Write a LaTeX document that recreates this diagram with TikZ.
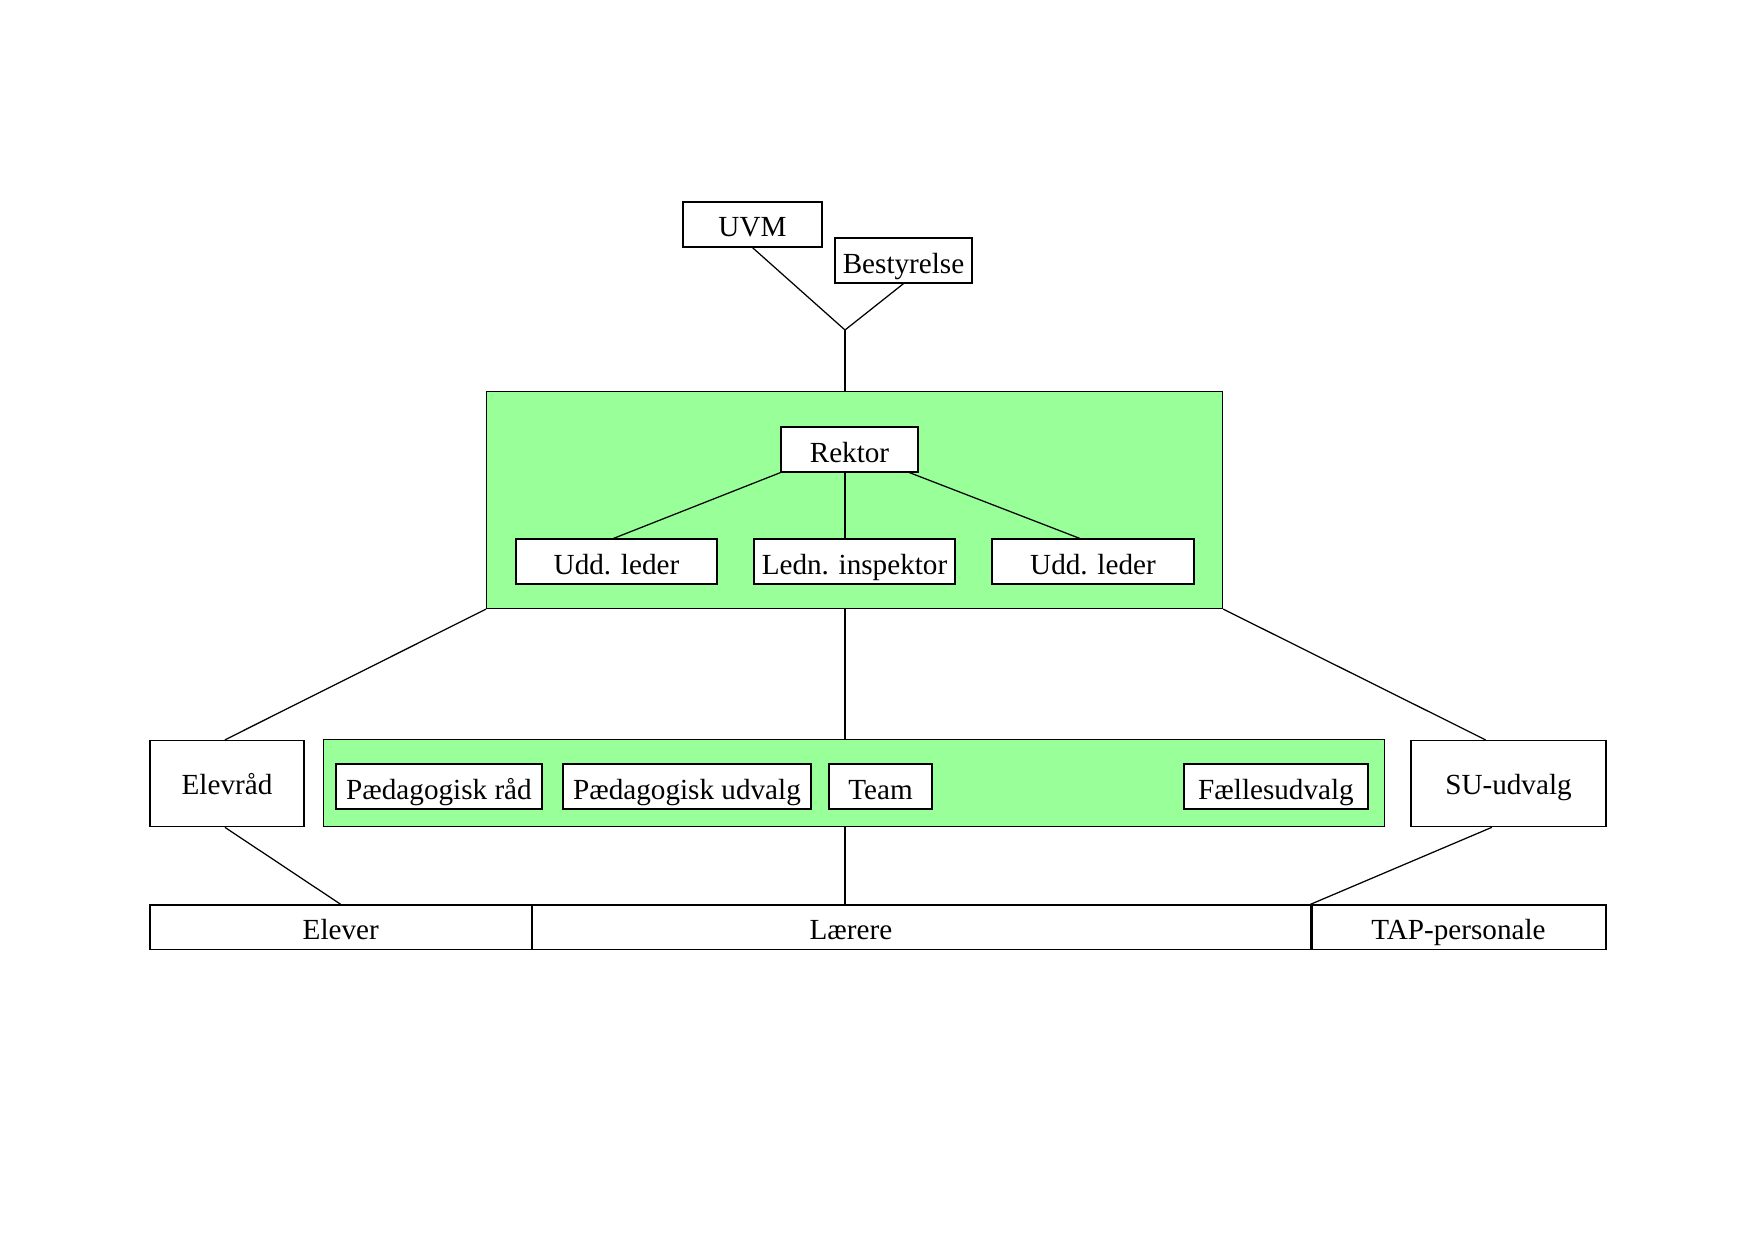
\documentclass[tikz,border=0pt]{standalone}
\usepackage{fontspec}
\setmainfont{Liberation Serif}
\usetikzlibrary{fit,calc}
\definecolor{lgreen}{HTML}{99FF99}
\tikzset{
  box/.style={draw=black, line width=0.6pt, fill=white, inner sep=0pt},
  tbox/.style={box, line width=1.3pt},
  gbox/.style={draw=black, line width=0.6pt, fill=lgreen, inner sep=0pt},
  gbox2/.style={draw=black, line width=0.4pt, fill=lgreen, inner sep=0pt},
  lab/.style={font=\fontsize{14}{16}\selectfont, inner sep=0pt, text height=12pt, text depth=0pt},
  conn/.style={draw=black, line width=0.6pt}
}
\begin{document}
\begin{tikzpicture}[x=0.48pt, y=-0.48pt]
\useasboundingbox (0,0) rectangle (1754,1240);
% top
\node[box, fit={(683,202)(822,247)}, label={[lab]center:UVM}] (uvm) {};
\node[box, fit={(835,238)(972,283)}, label={[lab]center:Bestyrelse}] (best) {};
\coordinate (junc) at (845,330);
% management box
\node[gbox, fit={(486.6,391.5)(1222.6,608.5)}] (mgmt) {};
\node[box, fit={(781,427)(918,472)}, label={[lab]center:Rektor}] (rektor) {};
\node[box, fit={(516,539)(717,584)}, label={[lab]center:Udd. leder}] (udd1) {};
\node[box, fit={(754,539)(955,584)}, label={[lab]center:Ledn. inspektor}] (ledn) {};
\node[box, fit={(992,539)(1194,584)}, label={[lab]center:Udd. leder}] (udd2) {};
% middle row
\node[box, fit={(150,740.5)(304,826.7)}, label={[lab, yshift=0.8pt]center:Elevråd}] (elevraad) {};
\node[gbox2, fit={(323.3,739.4)(1384.8,826.7)}] (lower) {};
\node[tbox, fit={(336,764)(542,809)}, label={[lab]center:Pædagogisk råd}] (pr) {};
\node[tbox, fit={(563,764)(811,809)}, label={[lab]center:Pædagogisk udvalg}] (pu) {};
\node[tbox, fit={(829,764)(932,809)}, label={[lab]center:Team}] (team) {};
\node[tbox, fit={(1184,764)(1368,809)}, label={[lab]center:Fællesudvalg}] (fu) {};
\node[box, fit={(1411,740.5)(1606,826.7)}, label={[lab, yshift=0.8pt]center:SU-udvalg}] (su) {};
% bottom row
\node[box, fit={(150,905)(531.5,949.7)}, label={[lab]center:Elever}] (elever) {};
\node[box, fit={(532.5,905)(1311,949.7)}, label={[lab, xshift=-34pt]center:Lærere}] (laerere) {};
\node[box, fit={(1311,905)(1606,949.7)}, label={[lab]center:TAP-personale}] (tap) {};
\draw[line width=1pt] (laerere.north west) -- (laerere.south west);
\draw[line width=1pt] (laerere.north east) -- (laerere.south east);
\coordinate (vx) at (845,0);
% connectors
\draw[conn] (uvm.south) -- (junc) -- (best.south);
\draw[conn] (junc) -- (junc |- mgmt.north);
\draw[conn] (rektor.south west) -- ([xshift=-1.4pt]udd1.north);
\draw[conn] (vx |- rektor.south) -- (vx |- ledn.north);
\draw[conn] ([xshift=-4.4pt]rektor.south east) -- ([xshift=-6.4pt]udd2.north);
\draw[conn] (mgmt.south west) -- ([xshift=-1pt]elevraad.north);
\draw[conn] (vx |- mgmt.south) -- (vx |- lower.north);
\draw[conn] (mgmt.south east) -- ([xshift=-11pt]su.north);
\draw[conn] ([xshift=-1pt]elevraad.south) -- (elever.north);
\draw[conn] (vx |- lower.south) -- (vx |- laerere.north);
\draw[conn] ([xshift=-8pt]su.south) -- (tap.north west);
\end{tikzpicture}
\end{document}
